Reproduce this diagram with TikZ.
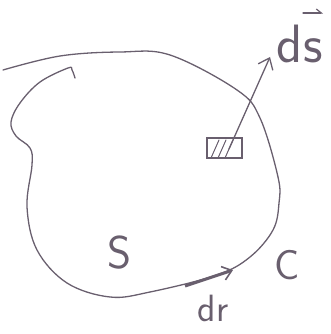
\documentclass[tikz,border=0pt]{standalone}
\usetikzlibrary{arrows.meta}
\definecolor{ink}{RGB}{105,95,110}
\begin{document}
\begin{tikzpicture}[x=1pt,y=-1pt,
  pen/.style={draw=ink,line width=1.3pt,line cap=round,line join=round},
  lbl/.style={text=ink,inner sep=0pt,font=\fontsize{46}{50}\selectfont\sffamily}]
\useasboundingbox (0,0) rectangle (331,334);
% boundary curve C
\draw[pen] plot[smooth,tension=0.6] coordinates{
 (3,70) (60,56) (120,52) (170,55) (237,90) (260,118) (278,177) (279,203) (273,230)
 (250,257) (217,275) (150,292) (110,297) (67,283) (37,250) (27,207) (32,165) (30,148)
 (16,136) (11,122) (20,103) (40,82) (68,68) (72,70) (75,78)};
% surface element
\node[draw=ink,line width=1.4pt,minimum width=35pt,minimum height=20pt,inner sep=0pt] (el) at (224.5,148) {};
\draw[pen,line width=1pt] (211,158) -- (219,140) (218,158) -- (226,140) (225,158) -- (233,140);
% normal vector ds
\coordinate (tip) at (270,57);
\draw[pen,-{Straight Barb[length=10pt,width=16pt,line width=1.3pt]}] (229,149) -- (tip);
\node[lbl,font=\fontsize{54}{58}\selectfont\sffamily] (ds) at (300,44) {d\kern1pt s};
\draw[pen,-{Straight Barb[length=5pt,width=8pt,line width=1.2pt,left]}] (303,13) -- (323,13);
% labels
\node[lbl] (S) at (120,253) {S};
\node[lbl,font=\fontsize{42}{46}\selectfont\sffamily] (C) at (287,265) {C};
\node[lbl,font=\fontsize{38}{42}\selectfont\sffamily] (dr) at (213,308) {dr};
% dr arrow on the curve
\coordinate (drA) at (185,286);
\coordinate (drB) at (233,270);
\draw[ink,line width=3pt,-{Straight Barb[length=9pt,width=14pt,line width=1.6pt]}] (drA) -- (drB);
\end{tikzpicture}
\end{document}
